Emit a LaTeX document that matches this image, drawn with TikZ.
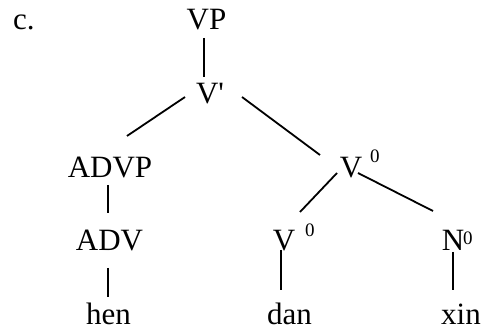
\documentclass[tikz,border=0pt]{standalone}
\usepackage{fontspec}
\setmainfont{Liberation Serif}
\usetikzlibrary{calc}
\begin{document}
\begin{tikzpicture}[x=1pt,y=-1pt,
  lbl/.style={inner sep=0pt,anchor=base,font=\fontsize{31}{36}\selectfont},
  supnum/.style={inner sep=0pt,anchor=base west,font=\fontsize{19}{22}\selectfont},
  branch/.style={line width=1.8pt,line cap=butt}]
\useasboundingbox (0,0) rectangle (483,331);

% labels
\node[lbl,anchor=base west] (ex) at (13,30) {c.};
\node[lbl] (vp) at (206.5,30) {VP};
\node[lbl] (vbar) at (210,104) {V\textquotesingle};
\node[lbl] (advp) at (110,178) {ADVP};
\node[lbl] (adv) at (109.5,251) {ADV};
\node[lbl] (hen) at (108.5,325) {hen};
\node[lbl] (vtop) at (351,178) {V};
\node[supnum] (vtopsup) at (370,163) {0};
\node[lbl] (vlow) at (284,251) {V};
\node[supnum] (vlowsup) at (305,237) {0};
\node[lbl] (nz) at (453,251) {N};
\node[supnum] (nzsup) at (463,245) {0};
\node[lbl] (dan) at (289.5,325) {dan};
\node[lbl] (xin) at (461,325) {xin};

% branches
\draw[branch] ($(vp.base)+(-2.5,8)$) -- ($(vbar.base)+(-6,-27)$);
\draw[branch] ($(vbar.base)+(-25,-7)$) -- ($(advp.base)+(17,-42)$);
\draw[branch] ($(vbar.base)+(32,-7)$) -- ($(vtop.base)+(-31,-23)$);
\draw[branch] ($(advp.base)+(-2,7)$) -- ($(adv.base)+(-1.5,-38)$);
\draw[branch] ($(adv.base)+(-1.5,17)$) -- ($(hen.base)+(-0.5,-28)$);
\draw[branch] ($(vtop.base)+(-14,-5)$) -- ($(vlow.base)+(16,-39)$);
\draw[branch] ($(vtop.base)+(7,-5)$) -- ($(nz.base)+(-20,-40)$);
\draw[branch] ($(vlow.base)+(-3,-1)$) -- ($(dan.base)+(-8.5,-35)$);
\draw[branch] ($(nz.base)+(0,1)$) -- ($(xin.base)+(-8,-35)$);
\end{tikzpicture}
\end{document}
